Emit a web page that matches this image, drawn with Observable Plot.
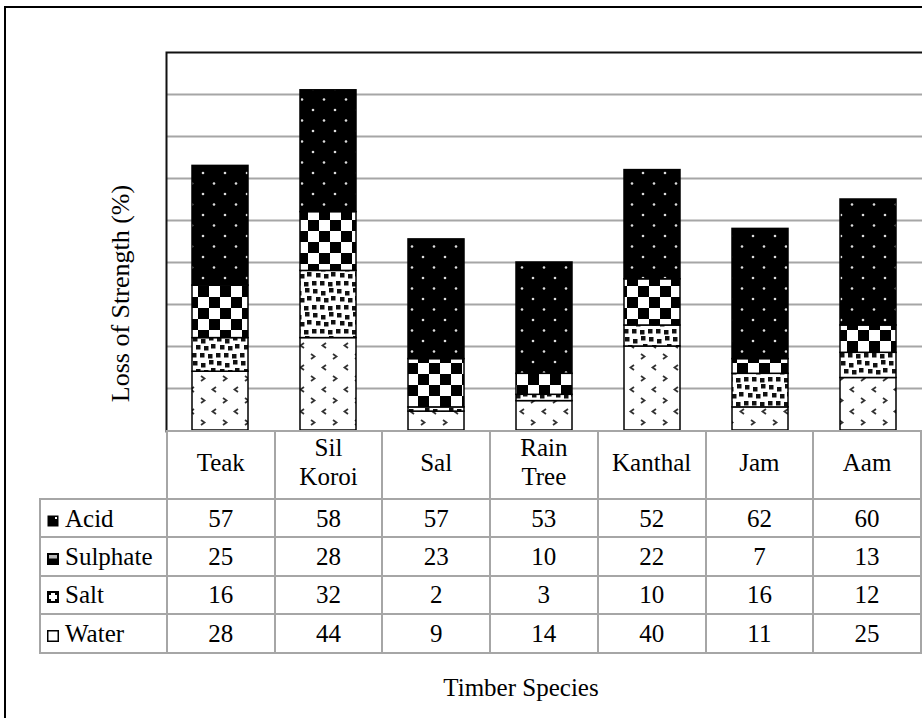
<!DOCTYPE html>
<html><head><meta charset="utf-8">
<script src="https://cdn.jsdelivr.net/npm/d3@7"></script>
<script src="https://cdn.jsdelivr.net/npm/@observablehq/plot@0.6"></script>
<style>
html,body{margin:0;padding:0;overflow:hidden;background:#fff;}
#wrap{position:relative;width:922px;height:718px;overflow:hidden;font-family:"Liberation Serif",Tinos,"Times New Roman",Times,"DejaVu Serif",serif;color:#000;}
#outer{position:absolute;left:4px;top:6px;width:1000px;height:1000px;border:2px solid #000;box-sizing:border-box;}
#chart{position:absolute;left:0;top:0;}
#tbl{position:absolute;left:39px;top:430px;border-collapse:collapse;table-layout:fixed;font-size:25px;line-height:29px;font-family:inherit;}
#tbl td{border:2px solid #a6a6a6;text-align:center;padding:0;background:#fff;overflow:hidden;white-space:nowrap;font-family:inherit;}
#tbl td.corner{border-top:none;border-left:none;background:transparent;}
#tbl td.head{padding-bottom:6px;}
#tbl td.lab{text-align:left;padding-left:6px;}
#tbl td.lab svg{vertical-align:0px;margin-right:6px;}
#xlabel{position:absolute;left:321px;width:400px;top:673px;text-align:center;font-size:25px;line-height:29px;}
#ylabel{position:absolute;left:-30px;width:300px;top:279px;height:29px;line-height:29px;text-align:center;font-size:26px;transform:rotate(-90deg);transform-origin:150px 14.5px;}
</style>
</head><body>
<svg width="0" height="0" style="position:absolute">
  <defs>
    <pattern id="pAcid" patternUnits="userSpaceOnUse" width="22" height="21">
      <rect width="22" height="21" fill="#000"/>
      <circle cx="5" cy="5" r="1.3" fill="#ddd"/>
      <circle cx="16" cy="15.5" r="1.3" fill="#ddd"/>
    </pattern>
    <pattern id="pSulphate" patternUnits="userSpaceOnUse" width="22" height="22">
      <rect width="22" height="22" fill="#fff"/>
      <rect width="11" height="11" fill="#000"/>
      <rect x="11" y="11" width="11" height="11" fill="#000"/>
    </pattern>
    <pattern id="pSalt" patternUnits="userSpaceOnUse" width="24" height="24">
      <rect width="24" height="24" fill="#fff"/>
      <g fill="#111">
        <rect x="1" y="1" width="4.5" height="4.5"/><rect x="9" y="3" width="4.5" height="4.5"/><rect x="17" y="0" width="4.5" height="4.5"/>
        <rect x="4" y="9" width="4.5" height="4.5"/><rect x="12" y="10" width="4.5" height="4.5"/><rect x="19" y="8" width="4.5" height="4.5"/>
        <rect x="0" y="17" width="4.5" height="4.5"/><rect x="8" y="17" width="4.5" height="4.5"/><rect x="16" y="18" width="4.5" height="4.5"/>
      </g>
    </pattern>
    <pattern id="pWater" patternUnits="userSpaceOnUse" width="22" height="22">
      <rect width="22" height="22" fill="#fff"/>
      <path d="M3,2 L6.5,4.5 L3,7" fill="none" stroke="#333" stroke-width="1.8"/>
      <path d="M18,13 L14.5,15.5 L18,18" fill="none" stroke="#333" stroke-width="1.8"/>
    </pattern>
  </defs>
</svg>
<div id="wrap">
  <div id="outer"></div>
  <div id="chart"></div>
  <table id="tbl"></table>
  <div id="xlabel"></div>
  <div id="ylabel"></div>
</div>
<script>
// ---- data ----
const categories = ["Teak", "Sil Koroi", "Sal", "Rain Tree", "Kanthal", "Jam", "Aam"];
const acid     = [57, 58, 57, 53, 52, 62, 60];
const sulphate = [25, 28, 23, 10, 22, 7, 13];
const salt     = [16, 32, 2, 3, 10, 16, 12];
const water    = [28, 44, 9, 14, 40, 11, 25];
const tableOrder = ["Acid", "Sulphate", "Salt", "Water"];       // table rows, top to bottom
const stackOrder = ["Water", "Salt", "Sulphate", "Acid"];       // bars, bottom to top
const gridTicks = [20, 40, 60, 80, 100, 120, 140, 160];
const yLabel = "Loss of Strength (%)";
const xLabel = "Timber Species";

const values = {Acid: acid, Sulphate: sulphate, Salt: salt, Water: water};
const patterns = {Acid: "url(#pAcid)", Sulphate: "url(#pSulphate)", Salt: "url(#pSalt)", Water: "url(#pWater)"};

const rows = [];
categories.forEach((c, i) => stackOrder.forEach(s => rows.push({category: c, series: s, value: values[s][i]})));

const chart = Plot.plot({
  width: 922, height: 440,
  marginLeft: 166, marginRight: 0, marginTop: 52, marginBottom: 10,
  style: {background: "transparent", overflow: "hidden"},
  x: {domain: categories, paddingInner: 0.48, paddingOuter: 0.24, axis: null},
  y: {domain: [0, 180], axis: null},
  color: {domain: stackOrder, range: stackOrder.map(s => patterns[s])},
  marks: [
    Plot.ruleY(gridTicks, {stroke: "#a6a6a6", strokeWidth: 2}),
    Plot.barY(rows, {x: "category", y: "value", fill: "series", stroke: "#000", strokeWidth: 1.5}),
    Plot.frame({stroke: "#111", strokeWidth: 2, insetRight: -20, insetBottom: -1})
  ]
});
document.getElementById("chart").appendChild(chart);

// ---- table ----
const icons = {
  Acid: '<svg width="12" height="12"><rect x="0.5" y="0.5" width="11" height="11" fill="#000"/><rect x="8" y="2" width="2" height="2" fill="#fff"/></svg>',
  Sulphate: '<svg width="12" height="12"><rect x="0.75" y="0.75" width="10.5" height="10.5" fill="#000" stroke="#000" stroke-width="1.5"/><rect x="2" y="2" width="8" height="3.5" fill="#bbb"/></svg>',
  Salt: '<svg width="12" height="12"><rect x="0.75" y="0.75" width="10.5" height="10.5" fill="#000" stroke="#000" stroke-width="1.5"/><rect x="4" y="2" width="4" height="8" fill="#fff"/><rect x="2" y="4" width="8" height="4" fill="#fff"/></svg>',
  Water: '<svg width="12" height="12"><rect x="0.75" y="0.75" width="10.5" height="10.5" fill="#fff" stroke="#000" stroke-width="1.5"/></svg>'
};
const tbl = document.getElementById("tbl");
let html = '<colgroup><col style="width:127px">' + categories.map(() => '<col style="width:108px">').join("") + '</colgroup>';
html += '<tr style="height:68px"><td class="corner"></td>' + categories.map(c => `<td class="head">${c.split(" ").join("<br>")}</td>`).join("") + '</tr>';
tableOrder.forEach(s => {
  html += `<tr style="height:38.4px"><td class="lab">${icons[s]}${s}</td>` + values[s].map(v => `<td>${v}</td>`).join("") + '</tr>';
});
tbl.innerHTML = html;
document.getElementById("xlabel").textContent = xLabel;
document.getElementById("ylabel").textContent = yLabel;
</script>
</body></html>
